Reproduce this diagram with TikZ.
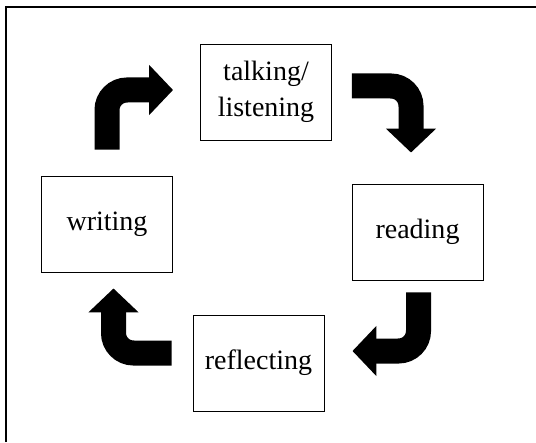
\documentclass[tikz,border=0pt]{standalone}
\usepackage{fontspec}
\setmainfont{Liberation Serif}
\usetikzlibrary{arrows.meta,calc}

\begin{document}
\begin{tikzpicture}[x=0.03cm, y=0.03cm,
        stage/.style={draw, line width=0.8pt, minimum width=3.93cm, minimum height=2.88cm,
            align=center, inner sep=0pt, font=\fontsize{23.9}{30.7}\selectfont},
        blockarrow/.style={line width=0.75cm, rounded corners=0.6cm,
            -{Triangle[width=1.47cm, length=0.72cm]}}]
        \useasboundingbox (0,0) rectangle (536,442);
        % open frame
        \draw[line width=1.2pt] (6,0) -- (6,435) -- (536,435);
        % stages
        \node[stage] (talk)    at (266,350)   {talking/\\listening};
        \node[stage] (reading) at (417.5,210) {reading};
        \node[stage] (reflect) at (258.5,79)  {reflecting};
        \node[stage] (writing) at (107,218)   {writing};
        % arrow ends
        \coordinate (a1) at ($(writing.north)+(0,26)$);
        \coordinate (b1) at ($(talk.west)+(-27,2)$);
        \coordinate (a2) at ($(talk.east)+(20,6)$);
        \coordinate (b2) at ($(reading.north)+(-6.5,31)$);
        \coordinate (a3) at ($(reading.south)+(1,-12)$);
        \coordinate (b3) at ($(reflect.east)+(28,12)$);
        \coordinate (a4) at ($(reflect.west)+(-21,10)$);
        \coordinate (b4) at ($(writing.south)+(6.5,-16)$);
        % bent block arrows
        \draw[blockarrow] (a1) |- (b1);
        \draw[blockarrow] (a2) -| (b2);
        \draw[blockarrow] (a3) |- (b3);
        \draw[blockarrow] (a4) -| (b4);
\end{tikzpicture}
\end{document}
